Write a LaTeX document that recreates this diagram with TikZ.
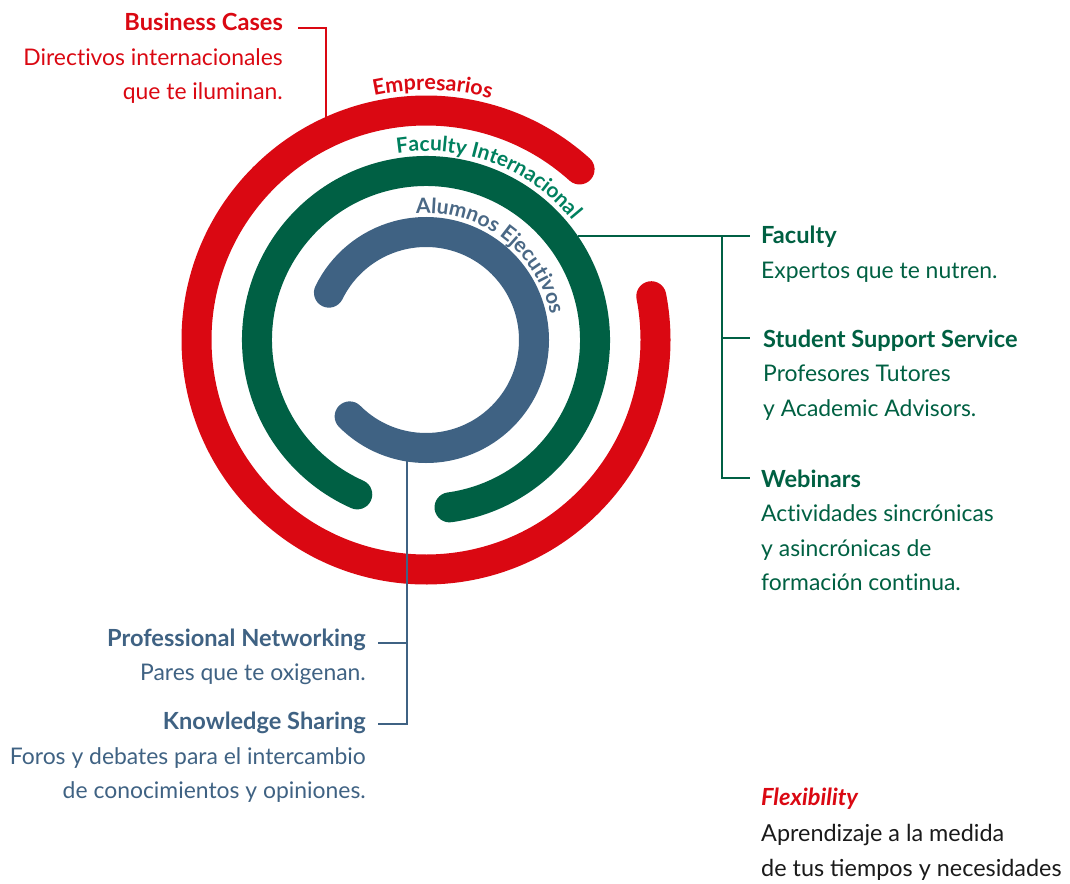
\documentclass[tikz,border=0pt]{standalone}
\usepackage{fontspec}
\setmainfont{Lato}[Ligatures=NoCommon]
\usetikzlibrary{decorations.text,calc}
\definecolor{cred}{RGB}{218,8,18}
\definecolor{cgreen}{RGB}{0,96,68}
\definecolor{cgreentxt}{RGB}{0,96,66}
\definecolor{cgreenarc}{RGB}{0,128,94}
\definecolor{cblue}{RGB}{63,98,131}
\definecolor{cbluearc}{RGB}{74,104,133}
\definecolor{cblack}{RGB}{26,26,26}
\begin{document}
\begin{tikzpicture}[x=1pt,y=1pt,
  ring/.style={line width=30pt, line cap=round},
  body/.style={inner sep=0pt, font=\fontsize{22.9}{22.9}\selectfont},
  head/.style={inner sep=0pt, font=\fontsize{23.6}{23.6}\selectfont\bfseries},
  conn/.style={line width=1.7pt},
  arctext/.style={decorate, decoration={text along path, text align=center, text={#1}}}]
\useasboundingbox (0,0) rectangle (1070,-883);
\coordinate (C) at (426,-340);

% rings
\draw[ring, cred]   ($(C)+(48:229.5)$) arc[start angle=48, end angle=371, radius=229.5];
\draw[ring, cgreen] ($(C)+(-82:169)$) arc[start angle=-82, end angle=246, radius=169];
\draw[ring, cblue]  ($(C)+(-135:108)$) arc[start angle=-135, end angle=154, radius=108];

% curved labels
\path[arctext={|\fontsize{21.5}{21.5}\selectfont\bfseries\color{cred}|Empresarios}]
  ($(C)+(122:250)$) arc[start angle=122, end angle=55, radius=250];
\path[arctext={|\fontsize{21}{21}\selectfont\bfseries\color{cgreenarc}|Faculty Internacional}]
  ($(C)+(117:189)$) arc[start angle=117, end angle=21, radius=189];
\path[arctext={|\fontsize{21}{21}\selectfont\bfseries\color{cbluearc}|Alumnos Ejecutivos}]
  ($(C)+(115:127)$) arc[start angle=115, end angle=-9, radius=127];

% Business Cases block
\node[head, text=cred, anchor=base east] (bc) at (283,-30.7) {Business Cases};
\node[body, text=cred, anchor=base east] (bc2) at (283,-65.2) {Directivos internacionales};
\node[body, text=cred, anchor=base east] (bc3) at (283,-99.7) {que te iluminan.};
\coordinate (bcA) at (298,-28);
\coordinate (bcB) at (326,-28);
\coordinate (bcC) at (326,-117);
\draw[conn, cred] (bcA) -- (bcB) -- (bcC);

% Faculty side
\node[head, text=cgreentxt, anchor=base west] (fa) at (761,-243.5) {Faculty};
\node[body, text=cgreentxt, anchor=base west] (fa2) at (761,-278) {Expertos que te nutren.};
\node[head, text=cgreentxt, anchor=base west] (ss) at (763,-347) {Student Support Service};
\node[body, text=cgreentxt, anchor=base west] (ss2) at (763,-381.5) {Profesores Tutores};
\node[body, text=cgreentxt, anchor=base west] (ss3) at (763,-416) {y Academic Advisors.};
\node[head, text=cgreentxt, anchor=base west] (we) at (761,-487) {Webinars};
\node[body, text=cgreentxt, anchor=base west] (we2) at (761,-521.5) {Actividades sincrónicas};
\node[body, text=cgreentxt, anchor=base west] (we3) at (761,-556) {y asincrónicas de};
\node[body, text=cgreentxt, anchor=base west] (we4) at (761,-590.5) {formación continua.};
\coordinate (gA) at (578,-236);
\coordinate (gB) at (722,-236);
\coordinate (gC) at (750,-236);
\coordinate (gD) at (722,-338);
\coordinate (gE) at (750,-338);
\coordinate (gF) at (722,-478);
\coordinate (gG) at (750,-478);
\draw[conn, cgreen] (gA) -- (gC);
\draw[conn, cgreen] (gB) -- (gF) -- (gG);
\draw[conn, cgreen] (gD) -- (gE);

% Alumnos side
\node[head, text=cblue, anchor=base east] (pn) at (366,-646) {Professional Networking};
\node[body, text=cblue, anchor=base east] (pn2) at (366,-680.5) {Pares que te oxigenan.};
\node[head, text=cblue, anchor=base east] (ks) at (366,-729.5) {Knowledge Sharing};
\node[body, text=cblue, anchor=base east] (ks2) at (366,-764) {Foros y debates para el intercambio};
\node[body, text=cblue, anchor=base east] (ks3) at (366,-798.5) {de conocimientos y opiniones.};
\coordinate (bA) at (407,-460);
\coordinate (bB) at (407,-643);
\coordinate (bC) at (378,-643);
\coordinate (bD) at (407,-724);
\coordinate (bE) at (378,-724);
\draw[conn, cblue] (bA) -- (bD) -- (bE);
\draw[conn, cblue] (bB) -- (bC);

% Flexibility
\node[head, text=cred, anchor=base west, font=\fontsize{23.6}{23.6}\selectfont\bfseries\itshape] (fl) at (761,-805) {Flexibility};
\node[body, text=cblack, anchor=base west, font=\fontsize{23.4}{23.4}\selectfont] (fl2) at (761,-841.5) {Aprendizaje a la medida};
\node[body, text=cblack, anchor=base west, font=\fontsize{23.4}{23.4}\selectfont] (fl3) at (761,-876.5) {de tus {\addfontfeatures{Ligatures=Common}ti}empos y necesidades};
\end{tikzpicture}
\end{document}
